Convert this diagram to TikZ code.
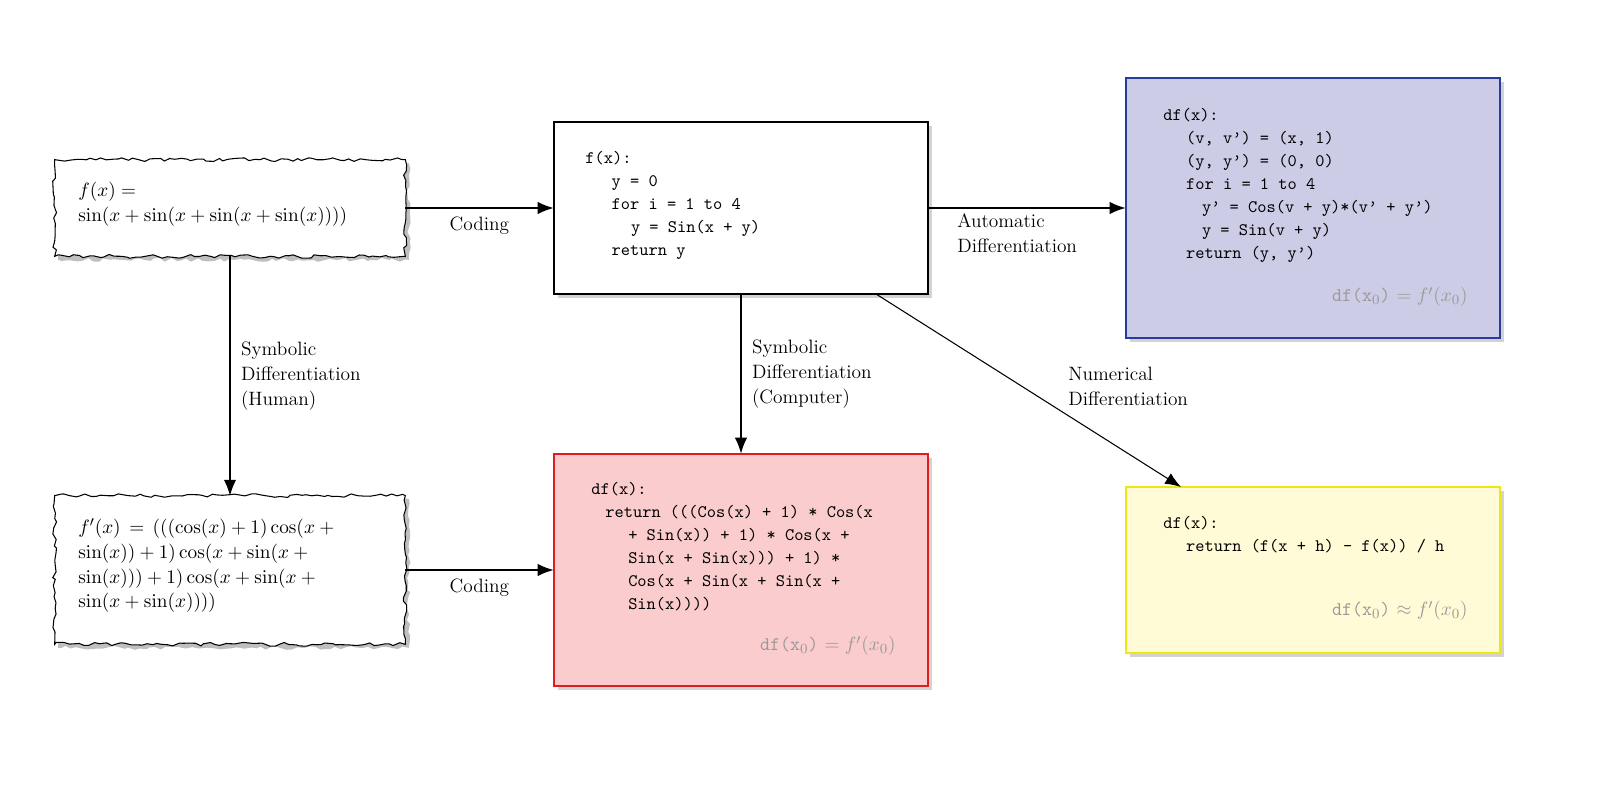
\documentclass[tikz,border=0pt]{standalone}
\usetikzlibrary{arrows.meta,shadows,decorations.pathmorphing}
\definecolor{bluefill}{RGB}{205,204,230}
\definecolor{blueline}{RGB}{40,60,160}
\definecolor{redfill}{RGB}{250,204,205}
\definecolor{redline}{RGB}{220,30,30}
\definecolor{yelfill}{RGB}{255,251,215}
\definecolor{yelline}{RGB}{240,230,20}
\newcommand{\qq}{\textquoteright}
\begin{document}
\begin{tikzpicture}[x=0.02cm,y=-0.02cm,
  box/.style={draw=black,line width=0.6pt,minimum width=374*0.02cm,drop shadow={opacity=0.35,shadow xshift=2pt,shadow yshift=-2pt},inner sep=0pt},
  hold/.style={minimum width=350*0.02cm,inner sep=0pt},
  code/.style={font=\fontsize{10}{13.1}\selectfont\ttfamily,align=left,anchor=north west,inner sep=0pt},
  lab/.style={font=\fontsize{11}{14.2}\selectfont,align=left,inner sep=0pt},
  arr/.style={-{Latex[length=9pt,width=7pt]},line width=0.6pt},
  wavy/.style={decorate,decoration={random steps,segment length=3pt,amplitude=1.1pt}},
  gr/.style={text=gray!80}]
% nodes
\node[hold,minimum height=96*0.02cm] (A) at (230,208) {};
\node[hold,minimum height=148*0.02cm] (D) at (230,570) {};
\node[box,fill=white,minimum height=172*0.02cm] (B) at (741,208) {};
\node[box,fill=bluefill,draw=blueline,minimum height=260*0.02cm] (C) at (1313,208) {};
\node[box,fill=redfill,draw=redline,minimum height=232*0.02cm] (E) at (741,570) {};
\node[box,fill=yelfill,draw=yelline,minimum height=166*0.02cm] (F) at (1313,570) {};
% wavy borders
\pgfmathsetseed{7}
\fill[black,opacity=0.25,wavy] ([xshift=2pt,yshift=-2pt]A.south west) rectangle ([xshift=2pt,yshift=-2pt]A.north east);
\filldraw[fill=white,line width=0.6pt,wavy] (A.south west) rectangle (A.north east);
\fill[black,opacity=0.25,wavy] ([xshift=2pt,yshift=-2pt]D.south west) rectangle ([xshift=2pt,yshift=-2pt]D.north east);
\filldraw[fill=white,line width=0.6pt,wavy] (D.south west) rectangle (D.north east);
% texts
\node[lab,anchor=north west] (At) at (78,182) {$f(x) =$\\$\sin(x+\sin(x+\sin(x+\sin(x))))$};
\node[lab,anchor=north west] (Dt) at (78,518) {$f'(x)\,=\,(((\cos(x)+1)\cos(x+{}$\\$\sin(x))+1)\cos(x+\sin(x+{}$\\$\sin(x)))+1)\cos(x+\sin(x+{}$\\$\sin(x+\sin(x))))$};
\node[code] (Bt) at (585,151) {f(x):\\\hspace*{15pt}y = 0\\\hspace*{15pt}for i = 1 to 4\\\hspace*{26pt}y = Sin(x + y)\\\hspace*{15pt}return y};
\node[code] (Ct) at (1163,108) {df(x):\\\hspace*{13pt}(v, v\qq) = (x, 1)\\\hspace*{13pt}(y, y\qq) = (0, 0)\\\hspace*{13pt}for i = 1 to 4\\\hspace*{22pt}y\qq{} = Cos(v + y)*(v\qq{} + y\qq)\\\hspace*{22pt}y = Sin(v + y)\\\hspace*{13pt}return (y, y\qq)};
\node[code] (Et) at (591,482) {df(x):\\\hspace*{8pt}return (((Cos(x) + 1) * Cos(x\\\hspace*{21pt}+ Sin(x)) + 1) * Cos(x +\\\hspace*{21pt}Sin(x + Sin(x))) + 1) *\\\hspace*{21pt}Cos(x + Sin(x + Sin(x +\\\hspace*{21pt}Sin(x))))};
\node[code] (Ft) at (1163,516) {df(x):\\\hspace*{13pt}return (f(x + h) - f(x)) / h};
\node[lab,gr,anchor=east] (Cg) at (1468,297) {\texttt{df(x$_0$)} $=f'(x_0)$};
\node[lab,gr,anchor=east] (Eg) at (896,646) {\texttt{df(x$_0$)} $=f'(x_0)$};
\node[lab,gr,anchor=east] (Fg) at (1468,611) {\texttt{df(x$_0$)} $\approx f'(x_0)$};
% connectors
\draw[arr] (A.east) -- (B.west) node[lab,pos=0.5,below=5pt] {Coding};
\draw[arr] (D.east) -- (E.west) node[lab,pos=0.5,below=5pt] {Coding};
\draw[arr] (A.south) -- (D.north) node[lab,pos=0.5,right=6pt] {Symbolic\\Differentiation\\(Human)};
\draw[arr] (B.south) -- (E.north) node[lab,pos=0.5,right=6pt] {Symbolic\\Differentiation\\(Computer)};
\draw[arr] (B.east) -- (C.west);
\node[lab,anchor=north west] (Cl) at (957,213) {Automatic\\Differentiation};
\coordinate (Bs) at (876,294);
\coordinate (Fn) at (1181,487);
\draw[arr] (Bs) -- (Fn);
\node[lab,anchor=north west] (Fl) at (1068,367) {Numerical\\Differentiation};
\pgfresetboundingbox
\path[use as bounding box] (0,0) rectangle (1600,805);
\end{tikzpicture}
\end{document}
